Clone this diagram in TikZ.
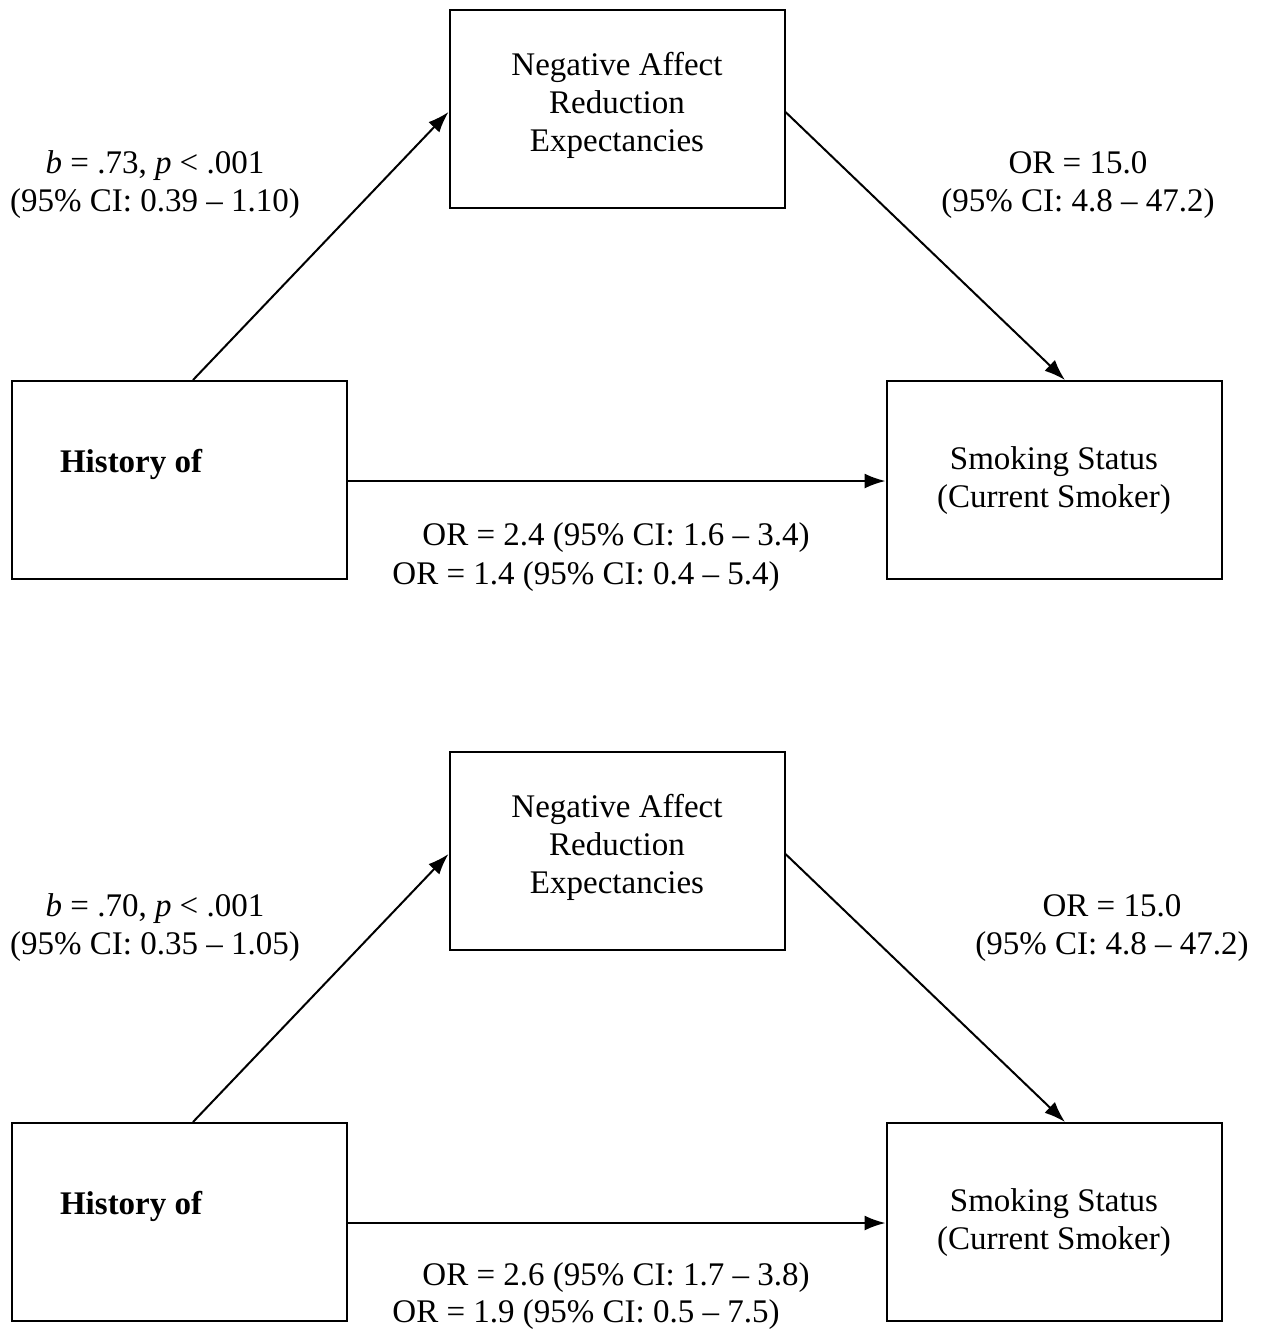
\documentclass[tikz,border=0pt]{standalone}
\usepackage{fontspec}
\setmainfont{Liberation Serif}
\usetikzlibrary{arrows.meta,calc}

\tikzset{
  varbox/.style={draw, line width=1pt, minimum width=167.5pt, minimum height=99pt, align=center, inner sep=0pt},
  path/.style={line width=1pt, -{Latex[length=10.5pt,width=7.5pt]}},
  est/.style={align=center}
}

\begin{document}
\begin{tikzpicture}[x=0.5pt, y=-0.5pt, font=\fontsize{16.5}{19}\selectfont]
\useasboundingbox (0,0) rectangle (1267,1330);

% upper model
\node[varbox] (nar1) at (617,109) {Negative Affect\\Reduction\\Expectancies\\[-1.6ex]\mbox{}};
\node[varbox] (hist1) at (179.5,480) {};
\node[font=\fontsize{16.5}{19}\selectfont\bfseries, anchor=west] (histlab1) at (53,464) {History of};
\node[varbox] (smoke1) at (1054,480) {Smoking Status\\(Current Smoker)\\[-2.1ex]\mbox{}};
\draw[path] ($(hist1.north)+(13.5,0)$) -- ($(nar1.west)+(0,3)$) ;
\draw[path] ($(nar1.east)+(0,3)$) -- ($(smoke1.north)+(11,0)$) ;
\draw[path] ($(hist1.east)+(0,1)$) -- ($(smoke1.west)+(0,1)$) ;
\node[est] (a1) at (155,185) {\textit{b} = .73, \textit{p} < .001\\(95\% CI: 0.39 -- 1.10)};
\node[est] (b1) at (1078,185) {OR = 15.0\\(95\% CI: 4.8 -- 47.2)};
\node (c1) at (616,538) {OR = 2.4 (95\% CI: 1.6 -- 3.4)};
\node (cp1) at (586,577) {OR = 1.4 (95\% CI: 0.4 -- 5.4)};

% lower model
\node[varbox] (nar2) at (617,851) {Negative Affect\\Reduction\\Expectancies\\[-1.6ex]\mbox{}};
\node[varbox] (hist2) at (179.5,1222) {};
\node[font=\fontsize{16.5}{19}\selectfont\bfseries, anchor=west] (histlab2) at (53,1206) {History of};
\node[varbox] (smoke2) at (1054,1222) {Smoking Status\\(Current Smoker)\\[-2.1ex]\mbox{}};
\draw[path] ($(hist2.north)+(13.5,0)$) -- ($(nar2.west)+(0,3)$) ;
\draw[path] ($(nar2.east)+(0,3)$) -- ($(smoke2.north)+(11,0)$) ;
\draw[path] ($(hist2.east)+(0,1)$) -- ($(smoke2.west)+(0,1)$) ;
\node[est] (a2) at (155,928) {\textit{b} = .70, \textit{p} < .001\\(95\% CI: 0.35 -- 1.05)};
\node[est] (b2) at (1112,928) {OR = 15.0\\(95\% CI: 4.8 -- 47.2)};
\node (c2) at (616,1278) {OR = 2.6 (95\% CI: 1.7 -- 3.8)};
\node (cp2) at (586,1315) {OR = 1.9 (95\% CI: 0.5 -- 7.5)};
\end{tikzpicture}
\end{document}
